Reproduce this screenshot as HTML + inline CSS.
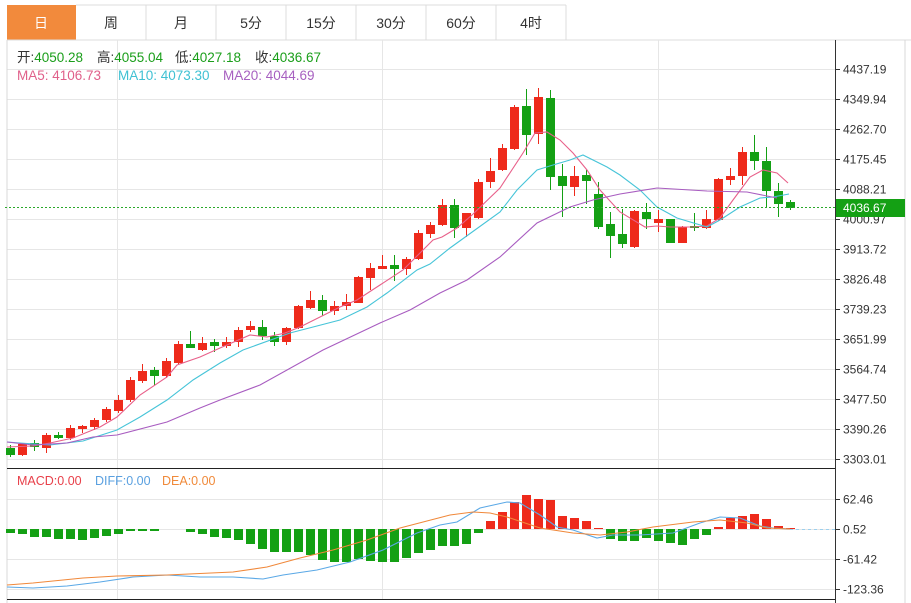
<!DOCTYPE html>
<html><head><meta charset="utf-8">
<style>
html,body{margin:0;padding:0;background:#fff;width:911px;height:603px;overflow:hidden;font-family:"Liberation Sans","Noto Sans CJK SC",sans-serif;}
svg{position:absolute;left:0;top:0}
</style></head><body>
<svg id="s" width="911" height="603" xmlns="http://www.w3.org/2000/svg" font-family="Liberation Sans, Noto Sans CJK SC, sans-serif">
<rect x="7" y="5" width="69" height="35" fill="#f28a3c"/>
<g stroke="#dcdcdc" fill="none">
<line x1="7" y1="40" x2="911" y2="40"/>
<line x1="76" y1="5" x2="566" y2="5"/>
<line x1="146" y1="5" x2="146" y2="40"/><line x1="216" y1="5" x2="216" y2="40"/>
<line x1="286" y1="5" x2="286" y2="40"/><line x1="356" y1="5" x2="356" y2="40"/>
<line x1="426" y1="5" x2="426" y2="40"/><line x1="496" y1="5" x2="496" y2="40"/>
<line x1="566" y1="5" x2="566" y2="40"/>
</g>
<g font-size="14" text-anchor="middle" fill="#333">
<text x="41" y="28" fill="#fff">日</text><text x="111" y="28">周</text><text x="181" y="28">月</text>
<text x="251" y="28">5分</text><text x="321" y="28">15分</text><text x="391" y="28">30分</text>
<text x="461" y="28">60分</text><text x="531" y="28">4时</text>
</g>
<g id="grid" stroke="#e6e6e6"></g>
<line x1="7" y1="40" x2="7" y2="603" stroke="#d8d8d8"/>
<line x1="905" y1="40" x2="905" y2="603" stroke="#d8d8d8"/>
<line x1="7" y1="468.5" x2="835" y2="468.5" stroke="#222"/>
<line x1="7" y1="599.5" x2="835" y2="599.5" stroke="#222"/>
<line x1="835.5" y1="40" x2="835.5" y2="603" stroke="#333"/>
<g id="ax" font-size="12" fill="#333"></g>
<g id="c"></g>
<g font-size="13.5">
<text x="17" y="62" fill="#333">开:<tspan fill="#1a9e1a">4050.28</tspan></text>
<text x="97" y="62" fill="#333">高:<tspan fill="#1a9e1a">4055.04</tspan></text>
<text x="175" y="62" fill="#333">低:<tspan fill="#1a9e1a">4027.18</tspan></text>
<text x="255" y="62" fill="#333">收:<tspan fill="#1a9e1a">4036.67</tspan></text>
<text x="17" y="80" fill="#e0608a">MA5: 4106.73</text>
<text x="118" y="80" fill="#3fc1d3">MA10: 4073.30</text>
<text x="223" y="80" fill="#a760c0">MA20: 4044.69</text>
<text x="17" y="485" fill="#e8404a" font-size="12.5">MACD:0.00</text>
<text x="95" y="485" fill="#5aa0e0" font-size="12.5">DIFF:0.00</text>
<text x="162" y="485" fill="#f08a3a" font-size="12.5">DEA:0.00</text>
</g>
<line x1="5" y1="207.5" x2="835" y2="207.5" stroke="#2aa82a" stroke-dasharray="2,2"/>
<rect x="836" y="199" width="69" height="18" fill="#14a014"/>
<text x="843" y="212" font-size="12" fill="#fff">4036.67</text>
</svg>
<script>
var NS="http://www.w3.org/2000/svg";
function el(p,t,a){var e=document.createElementNS(NS,t);for(var k in a)e.setAttribute(k,a[k]);p.appendChild(e);return e;}
var g=document.getElementById('grid'),ax=document.getElementById('ax'),c=document.getElementById('c');
var labs=["4437.19","4349.94","4262.70","4175.45","4088.21","4000.97","3913.72","3826.48","3739.23","3651.99","3564.74","3477.50","3390.26","3303.01"];
for(var i=0;i<14;i++){var y=69+30*i+0.5;el(g,'line',{x1:7,y1:y,x2:835,y2:y});el(ax,'line',{x1:835,y1:y,x2:840,y2:y,stroke:'#333'});var t=el(ax,'text',{x:843,y:y+4});t.textContent=labs[i];}
var ml=["62.46","0.52","-61.42","-123.36"];
for(var i=0;i<4;i++){var y=499+30*i+0.5;el(g,'line',{x1:7,y1:y,x2:835,y2:y});el(ax,'line',{x1:835,y1:y,x2:840,y2:y,stroke:'#333'});var t=el(ax,'text',{x:843,y:y+4});t.textContent=ml[i];}
[117,382,658].forEach(function(x){el(g,'line',{x1:x+.5,y1:40,x2:x+.5,y2:599});});
var C=[[448,455,445,457,0],[444,455,443,456,1],[443,447,440,451,0],[435,448,433,453,1],[435,438,432,439,0],[428,438,425,440,1],[426,429,425,433,1],[420,427,418,430,1],[409,420,407,422,1],[400,411,395,413,1],[380,400,377,402,1],[371,381,364,383,1],[370,376,367,385,0],[361,376,358,378,1],[344,363,341,364,1],[344,348,331,348,0],[343,350,337,351,1],[342,346,339,352,0],[342,346,337,348,1],[330,342,327,347,1],[326,330,321,332,1],[327,336,320,340,0],[336,342,332,346,0],[328,342,327,345,1],[306,328,305,329,1],[300,308,291,309,1],[300,311,295,316,0],[306,311,301,315,1],[302,306,294,310,1],[277,303,276,303,1],[268,278,263,290,1],[266,269,255,269,1],[265,269,255,281,0],[259,269,257,275,1],[233,259,230,260,1],[225,234,222,238,1],[205,225,199,226,1],[205,228,199,238,0],[213,228,213,237,1],[182,218,179,219,1],[171,182,158,188,1],[148,170,144,171,1],[107,149,105,150,1],[106,135,89,155,0],[97,134,88,144,1],[98,177,90,190,0],[176,186,164,217,0],[176,187,166,196,1],[175,181,170,204,0],[194,227,182,229,0],[224,236,212,258,0],[234,244,209,248,0],[211,247,210,248,1],[212,219,203,229,0],[219,223,210,232,1],[219,243,219,243,0],[227,243,226,243,1],[226,228,213,231,0],[219,228,210,229,1],[179,220,178,221,1],[176,180,168,185,1],[152,176,147,185,1],[152,161,135,170,0],[161,191,147,208,0],[191,204,183,217,0],[202,208,200,210,0]];
var R='#ee2a1b',G='#14a014';
C.forEach(function(d,i){var x=10+12*i,col=d[4]?R:G;el(c,'line',{x1:x+.5,y1:d[2],x2:x+.5,y2:d[3],stroke:col});el(c,'rect',{x:x-4,y:d[0],width:9,height:Math.max(1,d[1]-d[0]),fill:col});});
function pl(pts,col){el(c,'polyline',{points:pts,fill:'none',stroke:col,'stroke-width':1.1});}
pl("7,447 33,446 50,443 73,438 100,427 117,417 140,395 167,377 177,365 200,357 220,348 250,335 267,337 285,333 300,327 320,317 340,307 357,300 380,285 403,270 433,240 442,237 457,228 472,215 500,188 523,153 535,133 547,132 560,140 573,153 587,170 600,190 620,212 645,227 657,226 670,227 693,227 707,226 720,218 733,200 750,177 763,170 777,173 788,183","#e8608a");
pl("7,442 20,443 50,445 83,441 117,430 140,417 167,400 193,380 220,363 243,350 290,333 340,320 367,307 387,293 417,270 430,264 450,248 500,212 517,190 537,170 553,165 570,160 583,155 607,167 620,175 640,190 657,207 677,218 707,227 720,220 740,207 760,198 773,197 789,194","#46c4d8");
pl("7,442 33,445 67,443 93,437 117,435 167,422 200,408 220,400 260,385 323,350 380,323 410,310 440,293 467,280 500,257 537,223 570,207 593,200 620,194 657,188 707,191 747,192 777,198","#a85cc0");
var M=[533,534,537,537,539,539,540,538,536,534,531,531,531,529.5,529,532,534,537,538,540,544,549,552,552,552,555,560,562,562,559,561,562,562,558,553,550,546,546,544,533,521,512,502,495,499,500,516,518,521,528,539,541,541,538,541,543,545,539,535,527,518,516,514,519,526,528];
M.forEach(function(v,i){var x=10+12*i;if(Math.abs(v-529)<0.6)return;var y0=Math.min(v,529),h=Math.abs(v-529);el(c,'rect',{x:x-4,y:y0,width:9,height:Math.max(1,h),fill:v<529?R:G});});
pl("7,587 33,588 67,586 100,582 133,577 167,575 200,577 233,577 263,579 283,575 317,570 350,562 383,550 417,533 440,525 457,522 480,508 507,502 520,503 540,515 557,527 573,530 597,538 613,535 640,535 673,533 700,523 720,517 740,518 760,526 773,528 790,529","#5aa8e6");
pl("7,585 33,583 83,578 117,576 167,575 233,572 267,567 300,558 333,550 367,540 400,528 450,515 473,512 490,513 507,517 540,528 573,533 600,535 627,532 653,527 693,522 720,520 747,523 767,528 790,529","#f0883a");
el(c,'line',{x1:790,y1:529.5,x2:835,y2:529.5,stroke:'#9cd0ee','stroke-dasharray':'3,3'});
</script>
</body></html>
